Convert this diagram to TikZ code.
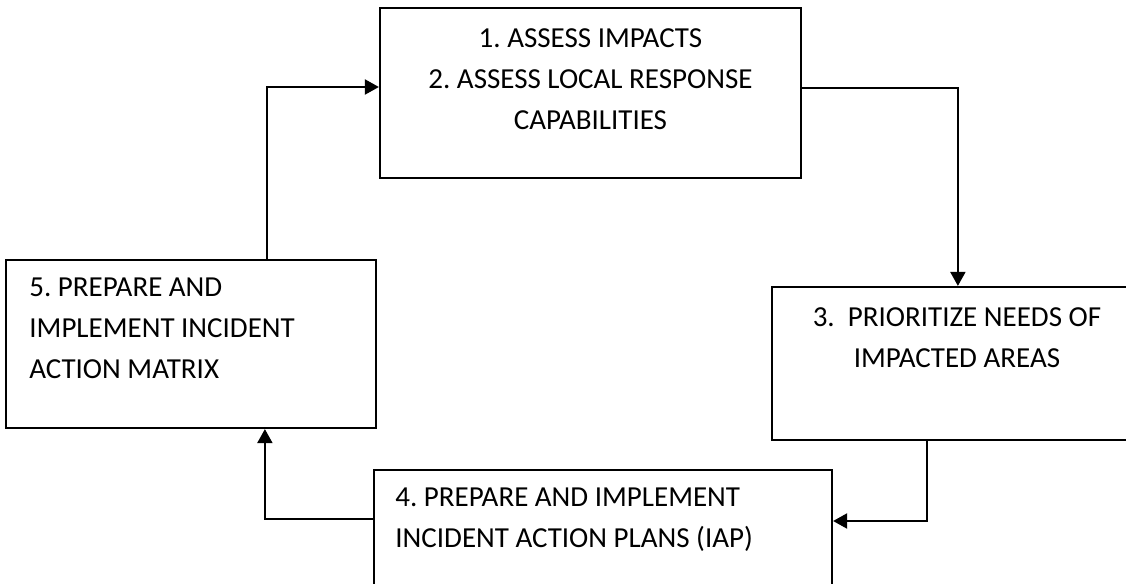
\documentclass[tikz,border=0pt]{standalone}
\usepackage{fontspec}
\setmainfont{Carlito}
\frenchspacing
\usetikzlibrary{arrows.meta,calc}
\begin{document}
\begin{tikzpicture}[x=0.5pt,y=-0.5pt,
  box/.style={draw=black, line width=1.1pt, rectangle, inner sep=0pt},
  txt/.style={inner sep=0pt, font=\fontsize{14.5}{20.5}\selectfont},
  arr/.style={draw=black, line width=1pt, -{Triangle[length=7pt,width=7.5pt]}}]
\useasboundingbox (0,0) rectangle (1126,584);
\fill[white] (0,0) rectangle (1126,584);
\clip (0,0) rectangle (1126,584);
% boxes
\node[box, minimum width=210.5pt, minimum height=85pt] (b1) at (590.5,93) {};
\node[box, minimum width=189pt, minimum height=76.5pt] (b3) at (961,363.5) {};
\node[box, minimum width=229pt, minimum height=75pt] (b4) at (603,545) {};
\node[box, minimum width=185pt, minimum height=84pt] (b5) at (191,344) {};
% texts
\node[txt, align=center, anchor=north] (t1) at (590.5,28.5) {1. ASSESS IMPACTS\\2. ASSESS LOCAL RESPONSE\\CAPABILITIES};
\node[txt, align=center, anchor=north] (t3) at (957,307.5) {3.\ \ PRIORITIZE NEEDS OF\\IMPACTED AREAS};
\node[txt, align=left, anchor=north west] (t4) at (395,487.5) {4. PREPARE AND IMPLEMENT\\INCIDENT ACTION PLANS (IAP)};
\node[txt, align=left, anchor=north west] (t5) at (29,277.5) {5. PREPARE AND\\IMPLEMENT INCIDENT\\ACTION MATRIX};
% connectors
\draw[arr] ([xshift=131pt]b5.north west) |- ([yshift=3pt]b1.west);
\draw[arr] ([yshift=2.5pt]b1.east) -| ([xshift=93.5pt]b3.north west);
\draw[arr] ([xshift=78pt]b3.south west) |- ([yshift=12pt]b4.east);
\draw[arr] ([yshift=13pt]b4.west) -| ([xshift=130pt]b5.south west);
\end{tikzpicture}
\end{document}
